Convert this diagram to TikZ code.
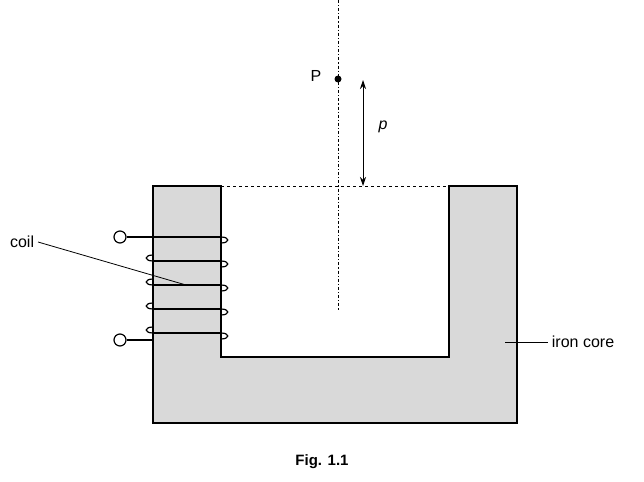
\documentclass[tikz,border=0pt]{standalone}
\usepackage{fontspec}
\setmainfont{Liberation Sans}
\usetikzlibrary{arrows.meta}
\begin{document}
\begin{tikzpicture}[x=1pt,y=1pt,yscale=-1,line width=1.2pt,
  every node/.style={font=\fontsize{16}{19}\selectfont},
  terminal/.style={circle,draw,line width=1.2pt,fill=white,inner sep=0pt,minimum size=12pt}]
  \useasboundingbox (0,0) rectangle (644,481);
  %core
  \draw[fill=black!15] (153,186) -- (221,186) -- (221,357) -- (449,357) -- (449,186) -- (517,186) -- (517,423) -- (153,423) -- cycle;
  \draw[dashed,line width=0.9pt] (221,186) -- (449,186);
  \draw[dash dot,line width=0.9pt] (338,0) -- (338,310);
  %point P
  \fill (338,79) circle (3.5pt);
  \node (P) at (316,76) {P};
  \coordinate (pt) at (363,80);
  \coordinate (pb) at (363,186);
  \draw[{Stealth[length=9pt,width=6pt]}-{Stealth[length=9pt,width=6pt]},line width=0.9pt] (pt) -- (pb);
  \node (p) at (383,127) {\itshape p};
  %coil
  \foreach \y in {237,261,285,309,333}{
    \draw (153,\y) -- (221,\y);
    \draw (221,\y) .. controls (230,\y) and (230,\y+6) .. (221,\y+6);
  }
  \foreach \y in {261,285,309,333}{
    \draw (153,\y-6) .. controls (144,\y-6) and (144,\y) .. (153,\y);
  }
  \node[terminal] (t1) at (120,237) {};
  \node[terminal] (t2) at (120,340) {};
  \draw (t1) -- (153,237);
  \draw (t2) -- (153,340);
  %labels
  \node[anchor=east] (coil) at (38,242) {coil};
  \coordinate (cw) at (186,285);
  \draw[line width=0.8pt] (coil.east) -- (cw);
  \node[anchor=west] (iron) at (548,342) {iron core};
  \coordinate (ic) at (505,342);
  \draw[line width=0.8pt] (ic) -- (iron.west);
  \node[font=\bfseries\fontsize{15}{18}\selectfont] (fig) at (322,462) {Fig. 1.1};
\end{tikzpicture}
\end{document}
